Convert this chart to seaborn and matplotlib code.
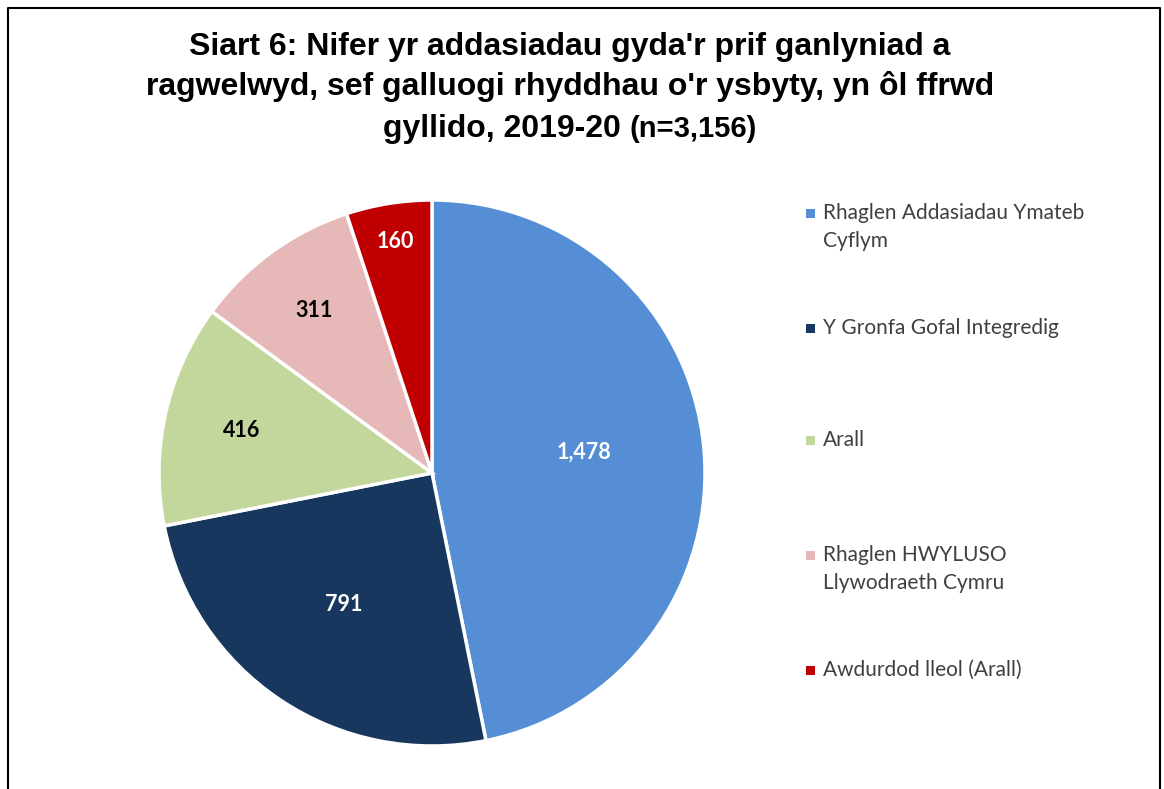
import matplotlib
matplotlib.use('Agg')
import matplotlib.pyplot as plt
import seaborn as sns
import numpy as np
from matplotlib.patches import Rectangle
from matplotlib.lines import Line2D

# data
categories = ['Rhaglen Addasiadau Ymateb Cyflym', 'Y Gronfa Gofal Integredig', 'Arall',
              'Rhaglen HWYLUSO Llywodraeth Cymru', 'Awdurdod lleol (Arall)']
legend_labels = ['Rhaglen Addasiadau Ymateb\nCyflym', 'Y Gronfa Gofal Integredig', 'Arall',
                 'Rhaglen HWYLUSO\nLlywodraeth Cymru', 'Awdurdod lleol (Arall)']
values = [1478, 791, 416, 311, 160]
colors = ['#558ED5', '#17375E', '#C3D69B', '#E6B9B8', '#C00000']
label_colors = ['white', 'white', 'black', 'black', 'white']

sns.set_theme(style='white')
palette = sns.color_palette(colors)

W, H = 1164, 789
fig = plt.figure(figsize=(W / 100, H / 100), dpi=100)

# pie axes: centre (432, 473) px, radius 273 px
cx, cy, R = 432, 473, 273
pad = 1.02
ax = fig.add_axes([(cx - R * pad) / W, (H - cy - R * pad) / H, 2 * R * pad / W, 2 * R * pad / H])
wedges, _ = ax.pie(values, colors=palette, startangle=90, counterclock=False,
                   wedgeprops=dict(edgecolor='white', linewidth=2.5))
ax.set_xlim(-pad, pad)
ax.set_ylim(-pad, pad)
ax.set_aspect('equal')
ax.axis('off')

# value labels inside wedges
label_dist = [0.56, 0.58, 0.716, 0.735, 0.858]
label_shift = [2, 0, 0, 0, 0]  # small angular nudge (degrees)
for w, v, d, s, c in zip(wedges, values, label_dist, label_shift, label_colors):
    ang = np.deg2rad((w.theta1 + w.theta2) / 2 + s)
    ax.text(d * np.cos(ang), d * np.sin(ang), f"{v:,}", ha='center', va='center',
            color=c, fontsize=15.5, fontweight='bold', family='Lato')

# legend, placed like the original
leg_y = [227, 328, 440, 569, 670]
for lab, col, y in zip(legend_labels, colors, leg_y):
    nlines = lab.count('\n') + 1
    top = y - 13.5 * (nlines - 1)
    fig.patches.append(Rectangle((806 / W, (H - top - 4.5) / H), 9 / W, 9 / H,
                                 facecolor=col, edgecolor='none', transform=fig.transFigure))
    fig.text(823 / W, (H - y) / H, lab, ha='left', va='center', fontsize=15,
             color='#404040', family='Lato', linespacing=1.55)

# title
tkw = dict(fontweight='bold', family='Liberation Sans', color='black')
fig.text(570 / W, (H - 47) / H, "Siart 6: Nifer yr addasiadau gyda'r prif ganlyniad a",
         fontsize=23, ha='center', va='center', **tkw)
fig.text(570 / W, (H - 86) / H, "ragwelwyd, sef galluogi rhyddhau o'r ysbyty, yn ôl ffrwd",
         fontsize=23, ha='center', va='center', **tkw)
r = fig.canvas.get_renderer()
t1 = fig.text(0, (H - 137) / H, "gyllido, 2019-20 ", fontsize=23, ha='left', va='baseline', **tkw)
t2 = fig.text(0, (H - 137) / H, "(n=3,156)", fontsize=21, ha='left', va='baseline', **tkw)
w1 = t1.get_window_extent(r).width
w2 = t2.get_window_extent(r).width
x0 = 570 - (w1 + w2) / 2
t1.set_x(x0 / W)
t2.set_x((x0 + w1) / W)

# outer frame (left, top, right)
fig.add_artist(Line2D([8 / W, 8 / W, 1160 / W, 1160 / W], [0, (H - 8) / H, (H - 8) / H, 0],
                      transform=fig.transFigure, color='black', linewidth=1.5))

fig.savefig('out.png', dpi=100)
